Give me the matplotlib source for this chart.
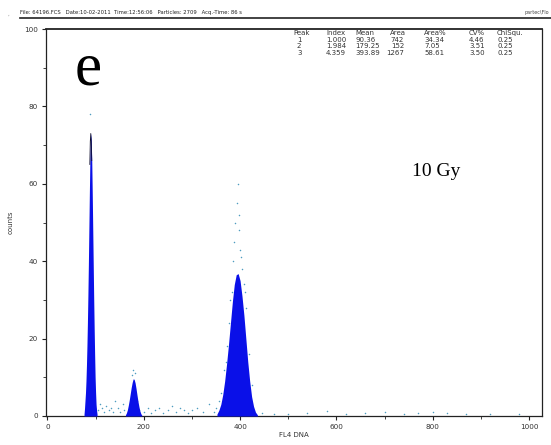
import matplotlib
matplotlib.use("Agg")
import matplotlib.pyplot as plt
from matplotlib.ticker import MultipleLocator

# ---- data ----
peak1_ch = [76, 77, 78, 79, 80, 81, 82, 83, 84, 85, 86, 87, 88, 89, 90, 91, 92, 93, 94, 95, 96, 97, 98, 99, 100, 101, 102, 103]
peak1_ct = [0.5, 2, 4, 6, 9, 13, 18, 24, 31, 39, 48, 57, 65, 71, 73, 71, 66, 58, 49, 40, 31, 23, 16, 10, 6, 3, 1.5, 0.5]

peak2_ch = [162, 164, 166, 168, 170, 172, 174, 176, 178, 180, 182, 184, 186, 188, 190, 192, 194, 196]
peak2_ct = [0.3, 0.8, 1.6, 2.8, 4.2, 5.8, 7.4, 8.7, 9.6, 9.5, 8.6, 7.1, 5.4, 3.8, 2.4, 1.3, 0.6, 0.2]

peak3_ch = [352, 356, 360, 364, 368, 372, 376, 380, 384, 388, 392, 396, 400, 404, 408, 412, 416, 420, 424, 428, 432, 436]
peak3_ct = [0.5, 1.5, 3.0, 5.5, 9.0, 13.5, 18.5, 24.0, 29.5, 34.0, 36.5, 36.8, 35.0, 31.0, 26.0, 20.0, 14.0, 9.0, 5.0, 2.5, 1.0, 0.3]

dots_x = [89, 84, 95, 98, 105, 110, 114, 118, 122, 127, 131, 136, 140, 146, 150, 156, 160, 176, 178, 181, 185, 190,
          200, 208, 215, 224, 232, 240, 250, 258, 266, 275, 284, 292, 300, 310, 322, 335, 345, 350, 356, 360,
          383, 386, 388, 390, 393, 395, 397, 398, 400, 402, 405, 408, 412, 376, 372, 366, 418, 424, 370, 380, 410,
          445, 470, 500, 540, 580, 620, 660, 700, 740, 770, 800, 830, 870, 920, 980]
dots_y = [78, 3, 4, 2, 1.5, 3, 2, 1, 2.5, 1.5, 2, 1, 4, 2, 1, 3, 1.5, 10.5, 12, 11, 4, 1.5,
          1, 2, 0.8, 1.5, 2, 0.8, 1.5, 2.5, 1, 2, 1.5, 0.8, 1.5, 2, 1, 3, 1, 2, 4, 6,
          32, 40, 45, 50, 55, 60, 52, 48, 43, 41, 38, 34, 28, 24, 18, 12, 16, 8, 14, 30, 32,
          0.8, 0.5, 0.6, 0.8, 1.2, 0.5, 0.7, 1.0, 0.6, 0.8, 1.0, 0.7, 0.5, 0.6, 0.5]

table_cols = ["Peak", "Index", "Mean", "Area", "Area%", "CV%", "ChiSqu."]
table_rows = [["1", "1.000", "90.36", "742", "34.34", "4.46", "0.25"],
              ["2", "1.984", "179.25", "152", "7.05", "3.51", "0.25"],
              ["3", "4.359", "393.89", "1267", "58.61", "3.50", "0.25"]]

header = "File: 64196.FCS   Date:10-02-2011  Time:12:56:06   Particles: 2709   Acq.-Time: 86 s"
x_ticks = [0, 200, 400, 600, 800, 1000]
y_ticks = [0, 20, 40, 60, 80, 100]

# ---- figure ----
W, H = 551, 445
fig = plt.figure(figsize=(W / 100, H / 100), dpi=100)
fig.patch.set_facecolor("white")

def fx(px):
    return px / W

def fy(py):
    return 1 - py / H

ax = fig.add_axes([fx(46), fy(416), fx(542) - fx(46), fy(29) - fy(416)])
ax.set_xlim(-3, 1027)
ax.set_ylim(0, 100)

blue = "#0a10e8"
for ch, ct in [(peak1_ch, peak1_ct), (peak2_ch, peak2_ct), (peak3_ch, peak3_ct)]:
    ax.fill_between(ch, 0, ct, color=blue, linewidth=0, zorder=3)
ax.plot(peak1_ch[12:17], peak1_ct[12:17], color="#101030", lw=0.6, zorder=4)

ax.scatter(dots_x, dots_y, s=1.2, color="#4f9cc0", linewidths=0, zorder=2)

for s in ax.spines.values():
    s.set_color("#222222")
    s.set_linewidth(0.9)
ax.spines["top"].set_linewidth(1.3)

ax.set_xticks(x_ticks)
ax.set_yticks(y_ticks)
ax.xaxis.set_minor_locator(MultipleLocator(100))
ax.yaxis.set_minor_locator(MultipleLocator(10))
ax.tick_params(axis="both", which="major", direction="out", length=3, width=0.8,
               labelsize=5.2, labelcolor="#333333", color="#222222", pad=3)
ax.tick_params(axis="both", which="minor", direction="out", length=2, width=0.6, color="#222222")

ax.set_xlabel("FL4 DNA", fontsize=5, color="#333333", labelpad=1)
ax.set_ylabel("counts", fontsize=5, color="#333333", labelpad=7)

# table
col_x = [293, 326, 355, 390, 424, 469, 497]
row_y = [33, 40, 46.5, 53]
fs_t = 5
for cx, name in zip(col_x, table_cols):
    fig.text(fx(cx), fy(row_y[0]), name, fontsize=fs_t, color="#333333", va="center", ha="left")
for r, row in enumerate(table_rows):
    for c, (cx, val) in enumerate(zip(col_x, row)):
        if c == 0:
            fig.text(fx(cx + 4), fy(row_y[r + 1]), val, fontsize=fs_t, color="#333333", va="center", ha="left")
        elif c == 3:
            fig.text(fx(cx + 14), fy(row_y[r + 1]), val, fontsize=fs_t, color="#333333", va="center", ha="right")
        else:
            fig.text(fx(cx), fy(row_y[r + 1]), val, fontsize=fs_t, color="#333333", va="center", ha="left")

# annotations
fig.text(fx(88), fy(70), "e", fontsize=44, family="Liberation Serif", color="black", ha="center", va="center")
fig.text(fx(436), fy(172), "10 Gy", fontsize=14, family="Liberation Serif", color="black", ha="center", va="center")

# header
fig.text(fx(20), fy(12.5), header, fontsize=3.8, family=["Liberation Sans Narrow", "DejaVu Sans"],
         color="#222222", va="center", ha="left")
fig.text(fx(549), fy(12.5), "partec\\Flo", fontsize=3.5, color="#444444", va="center", ha="right")
fig.add_artist(plt.Line2D([fx(20), 1.0], [fy(17.5), fy(17.5)], color="#222222", lw=1.2))
fig.text(fx(8), fy(16), ",", fontsize=4, color="#888888")

fig.savefig("out.png", dpi=100, facecolor="white")
